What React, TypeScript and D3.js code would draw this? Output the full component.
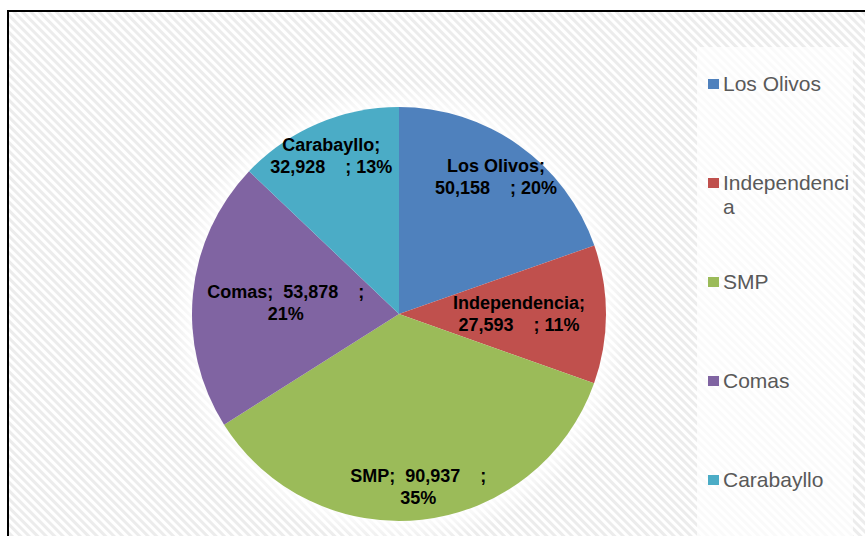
import React, { useEffect, useRef } from 'react';
import * as d3 from 'd3';

const categories = ['Los Olivos', 'Independencia', 'SMP', 'Comas', 'Carabayllo'];
const values = [50158, 27593, 90937, 53878, 32928];
const percentLabels = ['20%', '11%', '35%', '21%', '13%'];
const colors = ['#4F81BD', '#C0504D', '#9BBB59', '#8064A2', '#4BACC6'];
// how far out each data label sits (fraction of the radius), Excel "best fit" style
const labelRadius = [0.81, 0.58, 0.84, 0.55, 0.83];
// lines of each data label
const labelLines = [
    ['Los Olivos;', '50,158    ; 20%'],
    ['Independencia;', '27,593    ; 11%'],
    ['SMP;  90,937    ;', '35%'],
    ['Comas;  53,878    ;', '21%'],
    ['Carabayllo;', '32,928    ; 13%'],
];
const legendLines = [['Los Olivos'], ['Independenci', 'a'], ['SMP'], ['Comas'], ['Carabayllo']];

interface Slice {
    name: string;
    value: number;
    idx: number;
}

const App: React.FC = () => {
    const svgRef = useRef<SVGSVGElement>(null);

    useEffect(() => {
        if (!svgRef.current) return;
        const svg = d3.select(svgRef.current);
        svg.selectAll('*').remove();

        const width = 865;
        const height = 536;
        const cx = 399;
        const cy = 314;
        const r = 207;

        const defs = svg.append('defs');
        const pat = defs.append('pattern')
            .attr('id', 'hatch')
            .attr('patternUnits', 'userSpaceOnUse')
            .attr('width', 6)
            .attr('height', 6)
            .attr('patternTransform', 'rotate(-45)');
        pat.append('rect').attr('width', 6).attr('height', 6).attr('fill', '#ffffff');
        pat.append('rect').attr('width', 3).attr('height', 6).attr('fill', '#ececec');

        const glow = defs.append('radialGradient').attr('id', 'glow');
        glow.append('stop').attr('offset', '88%').attr('stop-color', '#fff').attr('stop-opacity', 0.9);
        glow.append('stop').attr('offset', '100%').attr('stop-color', '#fff').attr('stop-opacity', 0);

        svg.append('rect')
            .attr('width', width)
            .attr('height', height)
            .attr('fill', '#ffffff');

        // chart area with hatch and frame
        svg.append('rect')
            .attr('x', 8)
            .attr('y', 11)
            .attr('width', width + 20)
            .attr('height', height + 20)
            .attr('fill', 'url(#hatch)')
            .attr('stroke', '#000')
            .attr('stroke-width', 2);

        // soft glow round the pie
        svg.append('circle')
            .attr('cx', cx)
            .attr('cy', cy)
            .attr('r', r + 24)
            .attr('fill', 'url(#glow)');

        // legend box
        svg.append('rect')
            .attr('x', 697)
            .attr('y', 47)
            .attr('width', 156)
            .attr('height', height)
            .attr('fill', '#ffffff')
            .attr('opacity', 0.75);

        const data: Slice[] = categories.map((name, idx) => ({ name, value: values[idx], idx }));

        const pie = d3.pie<Slice>()
            .value(d => d.value)
            .sort(null);

        const arc = d3.arc<d3.PieArcDatum<Slice>>()
            .innerRadius(0)
            .outerRadius(r);

        const g = svg.append('g').attr('transform', `translate(${cx},${cy})`);
        const arcs = pie(data);

        g.selectAll('path')
            .data(arcs)
            .enter()
            .append('path')
            .attr('d', arc)
            .attr('fill', d => colors[d.data.idx]);

        // data labels
        arcs.forEach(d => {
            const mid = (d.startAngle + d.endAngle) / 2;
            const lr = r * labelRadius[d.data.idx];
            const x = Math.sin(mid) * lr;
            const y = -Math.cos(mid) * lr;
            const lines = labelLines[d.data.idx];
            const t = g.append('text')
                .attr('x', x)
                .attr('y', y + 6 - 11 * (lines.length - 1))
                .attr('text-anchor', 'middle')
                .attr('fill', '#000')
                .style('font-family', 'Arial, "Liberation Sans", sans-serif')
                .style('font-weight', 'bold')
                .style('font-size', '18px')
                .style('white-space', 'pre');
            lines.forEach((ln, i) => {
                t.append('tspan')
                    .attr('x', x)
                    .attr('dy', i === 0 ? 0 : 22)
                    .text(ln);
            });
        });

        // legend
        const ly = d3.scalePoint<string>()
            .domain(categories)
            .range([91, 487]);

        categories.forEach((c, i) => {
            const base = ly(c) as number;
            svg.append('rect')
                .attr('x', 708)
                .attr('y', base - 12)
                .attr('width', 11)
                .attr('height', 10)
                .attr('fill', colors[i]);
            const t = svg.append('text')
                .attr('x', 723)
                .attr('y', base)
                .attr('fill', '#595959')
                .style('font-family', 'Arial, "Liberation Sans", sans-serif')
                .style('font-size', '21px');
            legendLines[i].forEach((ln, j) => {
                t.append('tspan')
                    .attr('x', 723)
                    .attr('dy', j === 0 ? 0 : 24)
                    .text(ln);
            });
        });
    }, []);

    return (
        <svg
            ref={svgRef}
            width={865}
            height={536}
            viewBox="0 0 865 536"
            style={{ position: 'absolute', left: 0, top: 0, display: 'block' }}
        />
    );
};

export default App;
